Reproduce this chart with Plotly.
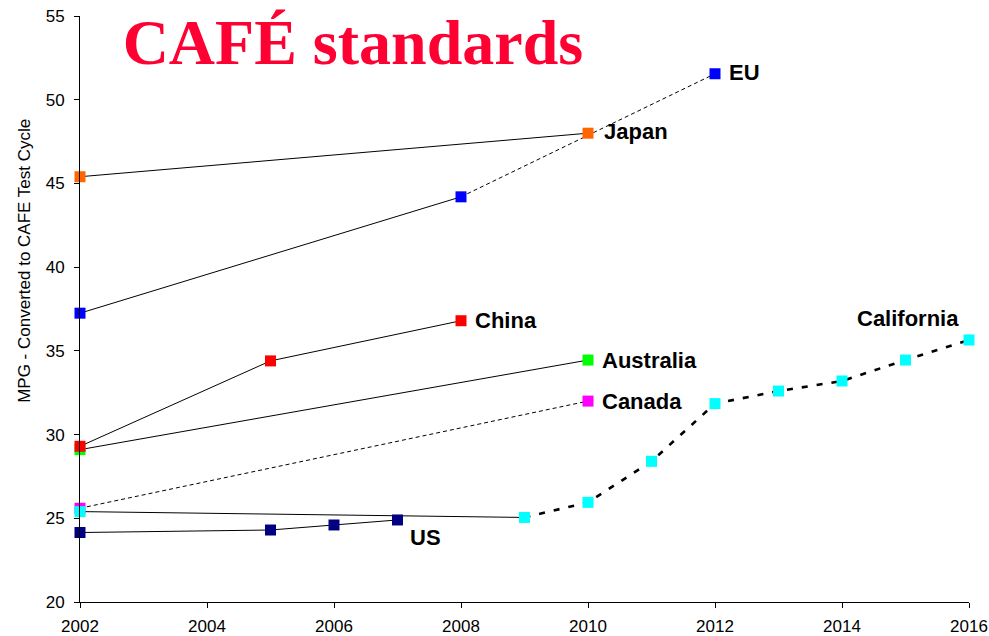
import plotly.graph_objects as go

# Fuel-economy standards by region (MPG, converted to CAFE test cycle)
japan_years = [2002, 2010]
japan_mpg = [45.4, 48.0]

eu_years = [2002, 2008, 2012]
eu_mpg = [37.25, 44.2, 51.55]

china_years = [2002, 2005, 2008]
china_mpg = [29.3, 34.4, 36.8]

australia_years = [2002, 2010]
australia_mpg = [29.1, 34.45]

canada_years = [2002, 2010]
canada_mpg = [25.6, 32.0]

california_years = [2002, 2009, 2010, 2011, 2012, 2013, 2014, 2015, 2016]
california_mpg = [25.4, 25.05, 25.95, 28.4, 31.85, 32.6, 33.2, 34.45, 35.65]

us_years = [2002, 2005, 2006, 2007]
us_mpg = [24.15, 24.3, 24.6, 24.9]

x_ticks = [2002, 2004, 2006, 2008, 2010, 2012, 2014, 2016]
y_ticks = [20, 25, 30, 35, 40, 45, 50, 55]

ORANGE = "#FF6600"
BLUE = "#0000FF"
RED = "#FF0000"
GREEN = "#00FF00"
MAGENTA = "#FF00FF"
CYAN = "#00FFFF"
NAVY = "#000080"

fig = go.Figure()


def segment(xs, ys, dash="solid", width=1):
    fig.add_trace(go.Scatter(
        x=xs, y=ys, mode="lines",
        line=dict(color="black", width=width, dash=dash),
        hoverinfo="skip", showlegend=False, cliponaxis=False,
    ))


def points(xs, ys, color, name):
    fig.add_trace(go.Scatter(
        x=xs, y=ys, mode="markers", name=name,
        marker=dict(symbol="square", size=11, color=color, line=dict(width=0)),
        showlegend=False, cliponaxis=False,
    ))


thin_dash = "4px,3px"
thick_dash = "6px,9px"

# connecting lines
segment(japan_years, japan_mpg)
segment(eu_years[:2], eu_mpg[:2])
segment(eu_years[1:], eu_mpg[1:], dash=thin_dash)
segment(china_years, china_mpg)
segment(australia_years, australia_mpg)
segment(canada_years, canada_mpg, dash=thin_dash)
segment(california_years[:2], california_mpg[:2])
segment(california_years[1:], california_mpg[1:], dash=thick_dash, width=2.6)
segment(us_years, us_mpg)

# markers (drawn on top of lines)
points(canada_years, canada_mpg, MAGENTA, "Canada")
points(california_years, california_mpg, CYAN, "California")
points(us_years, us_mpg, NAVY, "US")
points(australia_years, australia_mpg, GREEN, "Australia")
points(china_years, china_mpg, RED, "China")
points(eu_years, eu_mpg, BLUE, "EU")
points(japan_years, japan_mpg, ORANGE, "Japan")

label_font = dict(family="Liberation Sans, Arial, sans-serif", size=22, color="black")


def label(text, x, y, xshift=12, yshift=0, xanchor="left"):
    fig.add_annotation(
        x=x, y=y, text="<b>%s</b>" % text, showarrow=False,
        xanchor=xanchor, yanchor="middle", xshift=xshift, yshift=yshift,
        font=label_font,
    )


label("EU", eu_years[-1], eu_mpg[-1], yshift=1)
label("Japan", japan_years[-1], japan_mpg[-1], xshift=14, yshift=2)
label("China", china_years[-1], china_mpg[-1])
label("Australia", australia_years[-1], australia_mpg[-1])
label("Canada", canada_years[-1], canada_mpg[-1])
label("US", us_years[-1], us_mpg[-1], xshift=10, yshift=-18)
label("California", california_years[-1], california_mpg[-1], xshift=-8, yshift=21, xanchor="right")

# vertical axis caption
fig.add_annotation(
    xref="paper", yref="paper", x=-0.062, y=0.582,
    text="MPG - Converted to CAFE Test Cycle", textangle=-90,
    showarrow=False, xanchor="center", yanchor="middle",
    font=dict(family="Liberation Sans, Arial, sans-serif", size=17, color="black"),
)

fig.update_layout(
    width=989, height=636,
    margin=dict(l=80, r=20, t=16, b=34, autoexpand=False),
    paper_bgcolor="white", plot_bgcolor="white",
    font=dict(family="Liberation Sans, Arial, sans-serif", color="black"),
    title=dict(
        text="<b>CAFÉ standards</b>",
        font=dict(family="Liberation Serif, Times New Roman, serif", size=64, color="#FF0033"),
        x=0.124, xanchor="left", y=0.935, yanchor="middle",
    ),
    xaxis=dict(
        range=[2002, 2016], tickvals=x_ticks, ticktext=[str(v) for v in x_ticks],
        showgrid=False, zeroline=False, showline=True, linecolor="black", linewidth=1,
        ticks="outside", ticklen=5, tickcolor="black", automargin=False,
        tickfont=dict(size=17, color="black"), ticklabelstandoff=4,
    ),
    yaxis=dict(
        range=[20, 55], tickvals=y_ticks,
        showgrid=False, zeroline=False, showline=True, linecolor="black", linewidth=1,
        ticks="outside", ticklen=5, tickcolor="black", automargin=False,
        tickfont=dict(size=17, color="black"), ticklabelstandoff=6,
    ),
)

fig.write_html("out.html")
